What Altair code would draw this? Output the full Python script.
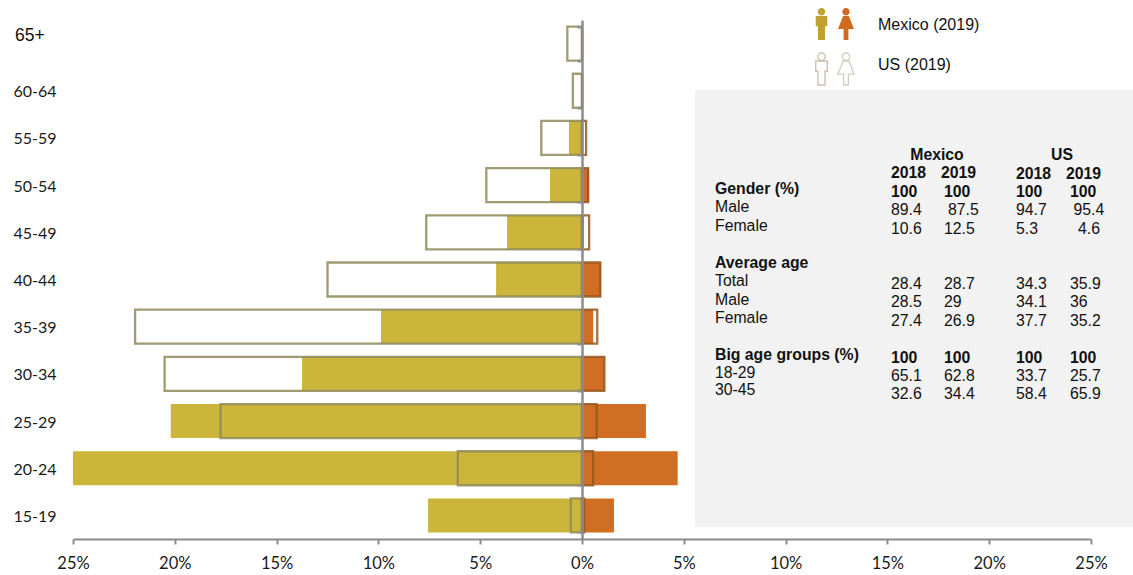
import altair as alt
import pandas as pd

# Age pyramid: share of each group, in percent
ages = ["65+", "60-64", "55-59", "50-54", "45-49", "40-44", "35-39", "30-34", "25-29", "20-24", "15-19"]
mexico_male = [0, 0, 0.64, 1.57, 3.68, 4.22, 9.87, 13.75, 20.2, 25.0, 7.56]
mexico_female = [0, 0, 0.05, 0.35, 0.1, 0.93, 0.55, 1.1, 3.14, 4.7, 1.57]
us_male = [0.72, 0.45, 2.0, 4.7, 7.65, 12.5, 21.95, 20.5, 17.75, 6.1, 0.55]
us_female = [0, 0, 0.2, 0.3, 0.35, 0.9, 0.75, 1.1, 0.72, 0.55, 0.1]

# Summary table text
table_labels = ["Gender (%)", "Male", "Female", "Average age", "Total", "Male", "Female",
                "Big age groups (%)", "18-29", "30-45"]
table_years = ["2018", "2019", "2018", "2019"]
table_rows = [
    ["100", "100", "100", "100"],
    ["89.4", "87.5", "94.7", "95.4"],
    ["10.6", "12.5", "5.3", "4.6"],
    None,
    ["28.4", "28.7", "34.3", "35.9"],
    ["28.5", "29", "34.1", "36"],
    ["27.4", "26.9", "37.7", "35.2"],
    ["100", "100", "100", "100"],
    ["65.1", "62.8", "33.7", "25.7"],
    ["32.6", "34.4", "58.4", "65.9"],
]

# Layout, in page pixels
LEFT, TOP = 73, 20
PLOT_W, PLOT_H = 1018, 519
label_y = [189, 207, 225.5, 263, 281, 300, 318, 355, 373, 390]
value_y = [192, 209.5, 229, None, 283.5, 302, 320.5, 357.5, 376, 394]
bold_rows = {0, 3, 7}
col_x = [891, 944, 1016, 1070]
row_col_x = {1: [891, 948, 1016, 1073.5], 2: [891, 944, 1016, 1078]}
year_x = [891, 941, 1016, 1066]

GOLD = "#CBB53B"
ORANGE = "#D06E23"
FONT_TABLE = "Liberation Sans"
FONT_AXIS = "Lato"

bars = pd.DataFrame(
    [{"age": a, "country": "Mexico", "sex": "M", "value": -v} for a, v in zip(ages, mexico_male)]
    + [{"age": a, "country": "Mexico", "sex": "F", "value": v} for a, v in zip(ages, mexico_female)]
    + [{"age": a, "country": "US", "sex": "M", "value": -v} for a, v in zip(ages, us_male)]
    + [{"age": a, "country": "US", "sex": "F", "value": v} for a, v in zip(ages, us_female)]
)

x_enc = alt.X(
    "value:Q",
    stack=None,
    scale=alt.Scale(domain=[-25, 25], nice=False),
    axis=alt.Axis(
        values=list(range(-25, 30, 5)),
        labelExpr="abs(datum.value) + '%'",
        title=None,
        grid=False,
        domainColor="#8c8c8c",
        domainWidth=2,
        tickColor="#8c8c8c",
        tickWidth=2,
        tickSize=5,
        labelFont=FONT_AXIS,
        labelFontSize=16.5,
        labelColor="#1a1a1a",
        labelPadding=11,
        labelFlush=False,
        labelOverlap=False,
    ),
)
y_enc = alt.Y(
    "age:N",
    sort=ages,
    scale=alt.Scale(domain=ages, paddingInner=0.28, paddingOuter=0.14),
    axis=alt.Axis(
        title=None,
        offset=-(PLOT_W / 2),
        zindex=1,
        tickBand="extent",
        domainColor="#8c8c8c",
        domainWidth=2.5,
        tickColor="#8c8c8c",
        tickWidth=2,
        tickSize=5,
        labelAlign="left",
        labelPadding=(PLOT_W / 2 + LEFT - 13) - 5,
        labelOffset=1,
        labelFont=FONT_AXIS,
        labelFontSize=16,
        labelColor="#1a1a1a",
        labelExpr="datum.value === '65+' ? '' : datum.value",
    ),
)

mexico_bars = (
    alt.Chart(bars[bars.country == "Mexico"])
    .mark_bar(size=34, strokeWidth=0)
    .encode(
        x=x_enc,
        y=y_enc,
        color=alt.Color("sex:N", scale=alt.Scale(domain=["M", "F"], range=[GOLD, ORANGE]), legend=None),
    )
)
us_bars = (
    alt.Chart(bars[bars.country == "US"])
    .mark_bar(size=34, filled=False, fillOpacity=0, strokeWidth=2.3, strokeOpacity=0.85)
    .encode(
        x=x_enc,
        y=y_enc,
        stroke=alt.Stroke("sex:N", scale=alt.Scale(domain=["M", "F"], range=["#8F8A58", "#96571F"]), legend=None),
    )
)
pyramid = alt.layer(mexico_bars, us_bars)

# Grey backdrop behind the table
panel = (
    alt.Chart(pd.DataFrame({"x": [695 - LEFT], "x2": [1133 - LEFT], "y": [90 - TOP], "y2": [527 - TOP]}))
    .mark_rect(color="#F2F2F2")
    .encode(
        x=alt.X("x:Q", scale=None),
        x2="x2:Q",
        y=alt.Y("y:Q", scale=None),
        y2="y2:Q",
    )
)

# Free-standing text: table, column headers, legend entries and the top age label
cells = []


def add(text, x, y, weight="normal", align="left", size=15.8):
    cells.append({"t": text, "px": x - LEFT, "py": y - TOP, "w": weight, "a": align, "s": size})


add("Mexico", 937, 155, "bold", "center")
add("US", 1062, 155, "bold", "center")
for text, xpos, ypos in zip(table_years, year_x, [173, 173, 173.5, 173.5]):
    add(text, xpos, ypos, "bold")
for i, (label, ly) in enumerate(zip(table_labels, label_y)):
    weight = "bold" if i in bold_rows else "normal"
    add(label, 715, ly, weight)
    if table_rows[i] is not None:
        for text, xpos in zip(table_rows[i], row_col_x.get(i, col_x)):
            add(text, xpos, value_y[i], weight)
add("Mexico (2019)", 878, 24.5, size=16)
add("US (2019)", 878, 64.5, size=16)
add("65+", 15, 36, size=17.5)

cell_df = pd.DataFrame(cells)


def text_layer(weight, align):
    subset = cell_df[(cell_df.w == weight) & (cell_df.a == align)]
    return (
        alt.Chart(subset)
        .mark_text(font=FONT_TABLE, fontWeight=weight, align=align, baseline="middle", color="#111111")
        .encode(
            x=alt.X("px:Q", scale=None),
            y=alt.Y("py:Q", scale=None),
            text="t:N",
            size=alt.Size("s:Q", scale=None, legend=None),
        )
    )


# Person pictograms of the legend
MALE = ("M-0.23,-0.77 A0.23,0.23 0 1,1 0.23,-0.77 A0.23,0.23 0 1,1 -0.23,-0.77 Z "
        "M-0.36,-0.5 L0.36,-0.5 L0.36,0.14 L0.22,0.14 L0.22,1 L-0.22,1 L-0.22,0.14 L-0.36,0.14 Z")
FEMALE = ("M-0.23,-0.77 A0.23,0.23 0 1,1 0.23,-0.77 A0.23,0.23 0 1,1 -0.23,-0.77 Z "
          "M-0.18,-0.5 L0.18,-0.5 L0.5,0.32 L0.15,0.32 L0.15,1 L-0.15,1 L-0.15,0.32 L-0.5,0.32 Z")


def icon(shape, cx, cy, fill, stroke, width):
    return (
        alt.Chart(pd.DataFrame({"px": [cx - LEFT], "py": [cy - TOP]}))
        .mark_point(shape=shape, size=1024, fill=fill, fillOpacity=1, stroke=stroke,
                    strokeWidth=width, opacity=1)
        .encode(x=alt.X("px:Q", scale=None), y=alt.Y("py:Q", scale=None))
    )


icons = [
    icon(MALE, 821.5, 24, "#BFA030", "#BFA030", 0),
    icon(FEMALE, 846, 24, "#CF6A1F", "#CF6A1F", 0),
    icon(MALE, 821.5, 69, "#FFFFFF", "#CDBFAE", 1.3),
    icon(FEMALE, 846, 69, "#FFFFFF", "#D6CBBE", 1.3),
]

chart = (
    alt.layer(panel, pyramid, text_layer("normal", "left"), text_layer("bold", "left"),
              text_layer("bold", "center"), *icons)
    .resolve_scale(x="independent", y="independent")
    .properties(
        width=PLOT_W,
        height=PLOT_H,
        padding={"left": LEFT, "top": TOP, "right": 42, "bottom": 36},
        autosize=alt.AutoSizeParams(type="none"),
        background="#FFFFFF",
    )
    .configure_view(stroke=None)
)

chart.save("out.html", embed_options={"renderer": "svg", "actions": False})
